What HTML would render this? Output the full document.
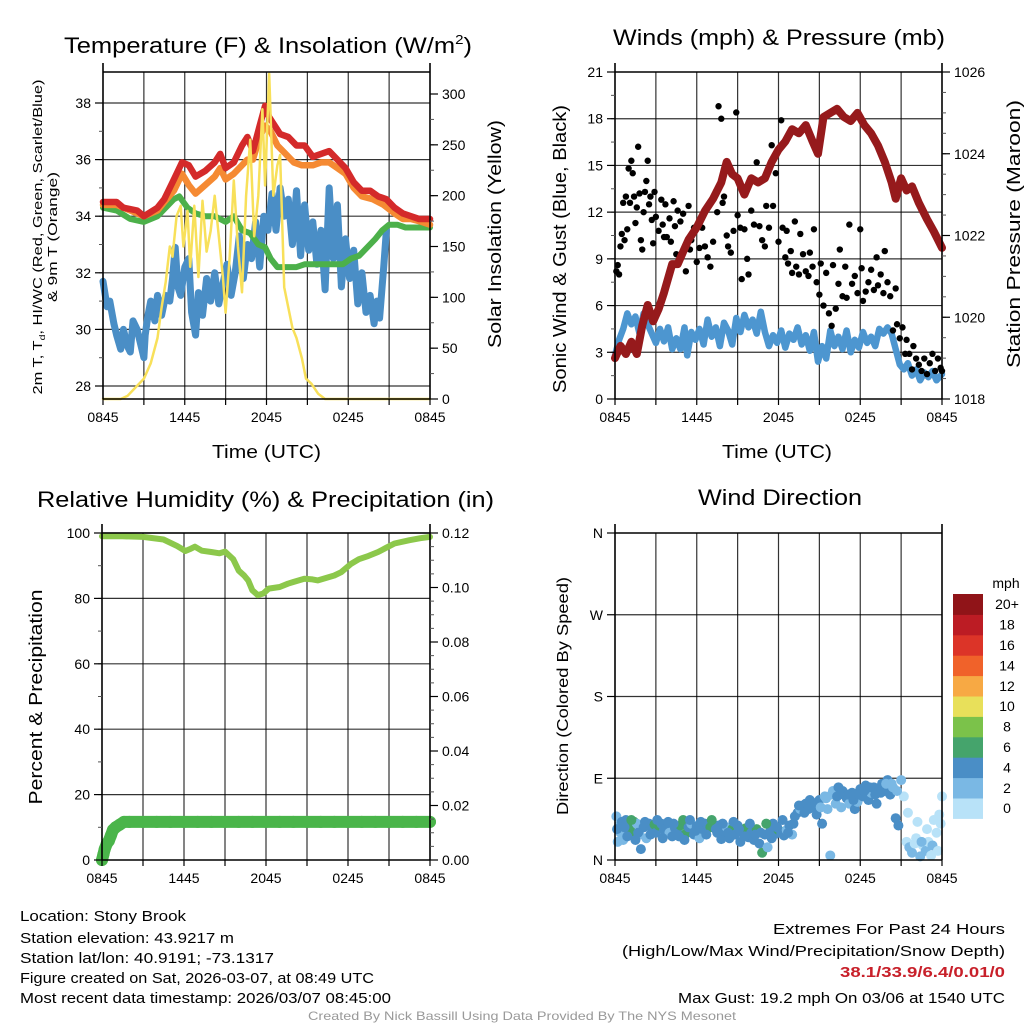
<!DOCTYPE html>
<html><head><meta charset="utf-8"><style>
html,body{margin:0;padding:0;background:#fff;}
svg{display:block;font-family:"Liberation Sans",Arial,sans-serif;}
</style></head><body>
<svg id="fig" width="1024" height="1024" viewBox="0 0 1024 1024" xmlns="http://www.w3.org/2000/svg">
<rect width="1024" height="1024" fill="#fff"/>
<g id="layer"></g>
<!-- titles -->
<text x="64" y="53" font-size="22" textLength="408" lengthAdjust="spacingAndGlyphs">Temperature (F) &amp; Insolation (W/m<tspan font-size="13" dy="-9">2</tspan><tspan dy="9">)</tspan></text>
<text x="613" y="45" font-size="22" textLength="332" lengthAdjust="spacingAndGlyphs">Winds (mph) &amp; Pressure (mb)</text>
<text x="37" y="507" font-size="22" textLength="457" lengthAdjust="spacingAndGlyphs">Relative Humidity (%) &amp; Precipitation (in)</text>
<text x="698" y="505" font-size="22" textLength="164" lengthAdjust="spacingAndGlyphs">Wind Direction</text>
<!-- axis titles -->
<text x="212" y="458" font-size="18" textLength="109" lengthAdjust="spacingAndGlyphs">Time (UTC)</text>
<text x="722" y="458" font-size="18" textLength="110" lengthAdjust="spacingAndGlyphs">Time (UTC)</text>
<text transform="translate(42,237) rotate(-90)" text-anchor="middle" font-size="12.5" textLength="315" lengthAdjust="spacingAndGlyphs">2m T, T<tspan font-size="8" dy="3">d</tspan><tspan dy="-3">, HI/WC (Red, Green, Scarlet/Blue)</tspan></text>
<text transform="translate(57,237) rotate(-90)" text-anchor="middle" font-size="12.5" textLength="130" lengthAdjust="spacingAndGlyphs">&amp; 9m T (Orange)</text>
<text transform="translate(501,234) rotate(-90)" text-anchor="middle" font-size="18" textLength="228" lengthAdjust="spacingAndGlyphs">Solar Insolation (Yellow)</text>
<text transform="translate(566,249) rotate(-90)" text-anchor="middle" font-size="18" textLength="288" lengthAdjust="spacingAndGlyphs">Sonic Wind &amp; Gust (Blue, Black)</text>
<text transform="translate(1020,234) rotate(-90)" text-anchor="middle" font-size="18" textLength="268" lengthAdjust="spacingAndGlyphs">Station Pressure (Maroon)</text>
<text transform="translate(42,697) rotate(-90)" text-anchor="middle" font-size="18" textLength="215" lengthAdjust="spacingAndGlyphs">Percent &amp; Precipitation</text>
<text transform="translate(568,696) rotate(-90)" text-anchor="middle" font-size="16" textLength="238" lengthAdjust="spacingAndGlyphs">Direction (Colored By Speed)</text>
<!-- footer -->
<g font-size="15">
<text x="20" y="921" textLength="166" lengthAdjust="spacingAndGlyphs">Location: Stony Brook</text>
<text x="20" y="943" textLength="214" lengthAdjust="spacingAndGlyphs">Station elevation: 43.9217 m</text>
<text x="20" y="963" textLength="254" lengthAdjust="spacingAndGlyphs">Station lat/lon: 40.9191; -73.1317</text>
<text x="20" y="983" textLength="354" lengthAdjust="spacingAndGlyphs">Figure created on Sat, 2026-03-07, at 08:49 UTC</text>
<text x="20" y="1003" textLength="371" lengthAdjust="spacingAndGlyphs">Most recent data timestamp: 2026/03/07 08:45:00</text>
</g>
<g font-size="15" text-anchor="end">
<text x="1005" y="934" textLength="232" lengthAdjust="spacingAndGlyphs">Extremes For Past 24 Hours</text>
<text x="1005" y="956" textLength="383" lengthAdjust="spacingAndGlyphs">(High/Low/Max Wind/Precipitation/Snow Depth)</text>
<text x="1005" y="977" fill="#c8202a" font-weight="bold" textLength="165" lengthAdjust="spacingAndGlyphs">38.1/33.9/6.4/0.01/0</text>
<text x="1005" y="1003" textLength="327" lengthAdjust="spacingAndGlyphs">Max Gust: 19.2 mph On 03/06 at 1540 UTC</text>
</g>
<text x="308" y="1020" font-size="12" fill="#999" textLength="428" lengthAdjust="spacingAndGlyphs">Created By Nick Bassill Using Data Provided By The NYS Mesonet</text>
</svg>
<script>
// ---------- data (time in hours after 0845 UTC) ----------
var xTickLabels = ["0845","1445","2045","0245","0845"];
var tempTicks = [28,30,32,34,36,38];
var solarTicks = [0,50,100,150,200,250,300];
var windTicks = [0,3,6,9,12,15,18,21];
var pressTicks = [1018,1020,1022,1024,1026];
var rhTicks = [0,20,40,60,80,100];
var precipTicks = ["0.00","0.02","0.04","0.06","0.08","0.10","0.12"];
var dirTicks = ["N","E","S","W","N"];
var speedBins = ["0","2","4","6","8","10","12","14","16","18","20+"];
var speedColors = ["#b8e2f8","#7ab8e4","#4a8ec6","#45a46c","#7bc24a","#e8e05a","#f7a944","#f0622a","#dc3428","#bc1c24","#901418"];

var tempRed = [[0,34.5],[1,34.5],[1.5,34.3],[2.5,34.2],[3,34.0],[4,34.3],[4.5,34.6],[5.2,35.3],[5.8,35.9],[6.3,35.8],[6.8,35.4],[7.5,35.6],[8.2,35.9],[8.6,36.2],[9.0,35.7],[9.6,35.9],[10.2,36.5],[10.6,36.8],[11.0,36.3],[11.5,37.2],[11.9,37.9],[12.2,37.5],[12.6,37.2],[13.0,36.9],[13.6,36.8],[14.2,36.5],[14.8,36.5],[15.4,36.1],[16.0,36.2],[16.6,36.3],[17.2,36.0],[17.8,35.7],[18.4,35.2],[19.0,34.9],[19.6,34.9],[20.2,34.7],[20.8,34.6],[21.4,34.3],[22.0,34.1],[22.6,34.0],[23.2,33.9],[24,33.9]];
var tempOrange = [[0,34.4],[1,34.4],[2,34.2],[3,34.0],[4,34.2],[4.5,34.5],[5.2,34.9],[5.8,35.5],[6.3,35.1],[6.8,34.8],[7.5,35.1],[8.2,35.4],[8.6,35.7],[9.0,35.3],[9.6,35.5],[10.2,35.8],[10.6,36.0],[11.0,36.0],[11.5,36.8],[11.9,37.2],[12.3,37.0],[12.8,36.5],[13.4,36.2],[14.0,35.9],[14.6,35.8],[15.4,35.8],[16.0,35.9],[16.6,35.9],[17.2,35.7],[17.8,35.5],[18.4,35.0],[19.0,34.7],[19.8,34.6],[20.6,34.4],[21.4,34.1],[22.0,33.9],[22.6,33.9],[23.4,33.8],[24,33.7]];
var tempGreen = [[0,34.3],[1,34.2],[2,33.9],[3,33.8],[4,34.0],[4.6,34.3],[5.2,34.6],[5.6,34.7],[6.2,34.3],[6.8,34.1],[7.5,34.0],[8.2,34.0],[9.0,33.8],[9.6,34.0],[10.2,33.5],[10.8,33.4],[11.4,33.0],[11.9,32.9],[12.3,32.5],[12.8,32.2],[13.5,32.2],[14.2,32.2],[14.8,32.3],[15.5,32.3],[16.2,32.3],[17.0,32.3],[17.6,32.3],[18.2,32.5],[18.8,32.6],[19.4,32.9],[20.0,33.2],[20.5,33.5],[21.0,33.7],[21.6,33.7],[22.2,33.6],[23.0,33.6],[24,33.6]];
var dewBlue = [[0,31.7],[0.3,30.8],[0.5,31.0],[0.8,30.2],[1.0,29.8],[1.3,29.3],[1.5,30.0],[1.8,29.4],[2.0,29.2],[2.2,30.3],[2.5,30.0],[2.8,29.4],[3.0,29.0],[3.1,29.8],[3.3,30.5],[3.5,31.0],[3.8,30.3],[4.0,31.2],[4.3,30.5],[4.6,31.2],[4.9,31.0],[5.1,31.8],[5.3,32.9],[5.5,31.5],[5.7,31.2],[6.0,32.2],[6.3,32.5],[6.5,30.6],[6.8,29.8],[7.0,31.3],[7.3,30.5],[7.6,31.8],[7.9,31.0],[8.2,32.0],[8.5,30.9],[8.8,31.6],[9.1,32.3],[9.4,31.2],[9.7,32.0],[10.0,33.3],[10.3,31.8],[10.6,33.0],[10.9,32.5],[11.2,33.8],[11.5,32.2],[11.8,34.0],[12.1,33.5],[12.4,34.8],[12.7,33.5],[13.0,35.0],[13.3,34.0],[13.6,34.6],[13.9,33.0],[14.2,34.9],[14.5,32.6],[14.8,34.4],[15.1,32.8],[15.4,33.8],[15.7,32.3],[16.0,33.5],[16.3,31.4],[16.6,35.0],[16.9,32.5],[17.2,34.4],[17.5,31.5],[17.8,33.2],[18.1,31.8],[18.4,32.8],[18.7,30.9],[19.0,32.0],[19.3,30.6],[19.6,31.2],[19.9,30.2],[20.1,31.0],[20.3,30.4],[20.6,32.2],[20.8,33.5]];
var solar = [[0,0],[1.3,0],[1.8,3],[2.3,10],[3,20],[3.5,35],[4.0,60],[4.3,90],[4.6,115],[4.9,150],[5.1,140],[5.4,180],[5.7,190],[5.9,150],[6.2,185],[6.4,130],[6.7,190],[7.0,120],[7.3,195],[7.6,145],[7.9,165],[8.2,200],[8.5,160],[8.8,120],[9.0,85],[9.3,140],[9.6,215],[9.9,150],[10.2,105],[10.5,200],[10.8,255],[11.1,160],[11.4,200],[11.7,285],[11.9,210],[12.2,320],[12.5,200],[12.8,230],[13.0,240],[13.3,110],[13.6,90],[13.9,70],[14.2,60],[14.6,40],[14.9,20],[15.3,15],[15.8,5],[16.3,0],[24,0]];
var pressure = [[0,1019.0],[0.4,1019.3],[0.8,1019.1],[1.2,1019.4],[1.6,1019.1],[2.0,1019.8],[2.4,1020.3],[2.8,1019.9],[3.2,1020.2],[3.6,1020.6],[4.2,1021.3],[4.6,1021.3],[5.0,1021.6],[5.4,1021.9],[6.0,1022.2],[6.6,1022.6],[7.2,1022.9],[7.8,1023.3],[8.2,1023.8],[8.6,1023.5],[9.0,1023.4],[9.5,1023.0],[10.0,1023.4],[10.5,1023.3],[11.0,1023.4],[11.5,1023.8],[12.0,1024.1],[12.5,1024.3],[13.0,1024.6],[13.5,1024.5],[14.0,1024.7],[14.5,1024.3],[14.9,1024.0],[15.3,1024.9],[15.8,1025.0],[16.3,1025.1],[16.8,1024.9],[17.3,1024.8],[17.8,1025.0],[18.3,1024.7],[18.8,1024.5],[19.3,1024.2],[19.8,1023.8],[20.3,1023.3],[20.6,1022.9],[21.0,1023.4],[21.4,1023.1],[21.8,1023.2],[22.3,1022.8],[22.9,1022.4],[23.4,1022.1],[24,1021.7]];
var windBlue = [[0,2.8],[0.3,3.8],[0.6,4.5],[0.9,5.5],[1.2,4.8],[1.5,5.3],[1.8,4.2],[2.1,5.5],[2.4,4.8],[2.7,4.2],[3.0,3.6],[3.3,4.5],[3.6,3.7],[3.9,4.6],[4.2,3.2],[4.5,3.9],[4.8,3.2],[5.1,4.6],[5.3,2.8],[5.6,4.3],[5.9,3.8],[6.2,4.5],[6.5,3.5],[6.8,5.1],[7.1,4.0],[7.4,4.6],[7.7,3.4],[8.0,4.9],[8.3,4.4],[8.6,3.5],[8.9,5.2],[9.2,4.3],[9.5,5.4],[9.8,4.6],[10.1,5.1],[10.4,4.2],[10.7,5.6],[11.0,4.3],[11.3,3.4],[11.6,4.1],[11.9,3.6],[12.2,4.4],[12.5,3.3],[12.8,4.2],[13.1,3.8],[13.4,4.6],[13.7,3.5],[14.0,4.1],[14.3,3.1],[14.6,4.3],[14.9,2.4],[15.2,3.4],[15.5,2.6],[15.8,4.4],[16.1,3.4],[16.4,4.0],[16.7,3.2],[17.0,4.4],[17.3,3.0],[17.6,3.8],[17.9,3.3],[18.2,4.3],[18.5,3.6],[18.8,4.0],[19.1,3.4],[19.4,4.5],[19.7,4.2],[20.0,4.6],[20.3,4.2],[20.6,3.2],[20.9,2.2],[21.2,1.9],[21.5,2.3],[21.8,1.5],[22.1,1.9],[22.4,1.2],[22.7,1.7],[23.0,1.4],[23.3,1.8],[23.6,1.2],[24,1.6]];
var gusts = [[0.1,8.2],[0.2,8.6],[0.3,8.0],[0.4,9.8],[0.5,10.6],[0.6,12.6],[0.7,10.2],[0.8,13.0],[0.9,10.9],[1.0,14.8],[1.1,12.6],[1.2,15.3],[1.3,14.5],[1.4,13.0],[1.5,11.3],[1.6,12.3],[1.7,16.2],[1.8,13.2],[1.9,10.2],[2.0,9.6],[2.1,12.0],[2.2,13.3],[2.3,14.0],[2.4,15.3],[2.5,12.5],[2.6,13.0],[2.7,11.5],[2.8,10.0],[2.9,13.3],[3.0,11.7],[3.2,10.8],[3.4,12.8],[3.5,11.2],[3.6,10.4],[3.7,12.5],[3.8,10.4],[4.0,11.6],[4.1,10.1],[4.3,12.7],[4.4,11.1],[4.5,9.3],[4.6,12.1],[4.8,11.4],[5.0,11.9],[5.2,8.2],[5.4,12.4],[5.5,9.6],[5.6,10.2],[5.8,11.0],[6.0,8.8],[6.2,9.7],[6.4,11.0],[6.6,9.8],[6.8,9.1],[7.0,8.5],[7.2,10.1],[7.4,13.3],[7.5,12.0],[7.6,18.8],[7.8,18.0],[7.9,12.6],[8.0,13.0],[8.2,10.5],[8.3,9.8],[8.5,9.4],[8.7,10.8],[8.9,18.4],[9.0,11.8],[9.2,11.0],[9.3,7.7],[9.5,10.9],[9.7,9.0],[9.8,8.0],[10.0,12.1],[10.2,11.2],[10.4,15.2],[10.6,11.1],[10.8,10.2],[11.0,9.8],[11.1,12.4],[11.3,11.0],[11.5,16.3],[11.6,12.4],[11.8,14.5],[12.0,10.1],[12.2,17.9],[12.3,11.0],[12.5,9.1],[12.6,10.8],[12.7,8.7],[12.9,9.5],[13.0,8.1],[13.2,11.4],[13.3,8.5],[13.5,8.0],[13.6,10.6],[13.8,9.3],[14.0,8.2],[14.2,7.9],[14.3,9.4],[14.5,8.5],[14.6,10.9],[14.8,7.5],[15.0,6.7],[15.1,8.7],[15.3,6.0],[15.5,8.1],[15.7,5.5],[15.9,4.7],[16.0,8.6],[16.2,5.8],[16.4,7.4],[16.5,9.6],[16.7,6.6],[16.9,8.5],[17.0,6.5],[17.2,11.2],[17.4,7.4],[17.6,7.9],[17.8,6.8],[18.0,10.9],[18.1,8.4],[18.2,6.3],[18.4,6.9],[18.6,7.5],[18.8,8.3],[19.0,7.0],[19.2,9.1],[19.3,7.3],[19.5,8.0],[19.7,6.8],[19.8,9.5],[20.0,7.5],[20.2,6.6],[20.4,4.4],[20.6,7.1],[20.7,4.8],[20.9,3.9],[21.1,4.6],[21.3,2.9],[21.4,3.8],[21.6,2.9],[21.8,1.9],[21.9,3.4],[22.1,2.6],[22.3,2.2],[22.5,1.8],[22.7,2.6],[22.9,1.6],[23.1,2.3],[23.3,2.9],[23.5,1.8],[23.7,2.6],[23.9,2.0],[24.0,1.8]];
var rh = [[0,99],[1.5,99],[3,98.8],[4.5,98],[5.5,96],[6.1,94.5],[6.5,95.2],[6.8,95.8],[7.3,94.6],[8.0,94.2],[8.6,93.8],[9.0,94.3],[9.6,92],[10.0,88.5],[10.4,87],[10.7,85.5],[11.0,82.5],[11.4,81],[11.8,81.5],[12.2,83],[13.0,83.5],[13.6,84.5],[14.0,85],[14.8,86],[15.4,85.8],[15.8,85.5],[16.2,86],[17.0,87],[17.5,88],[18.2,90.5],[18.8,92],[19.5,93],[20.2,94.2],[20.8,95.5],[21.4,96.8],[22.5,97.8],[23.3,98.4],[24,98.8]];
var precipT = [0,0.1,0.2,0.35,0.5,0.65,0.8,1.0,1.3,1.6,2.0,3,4,5,6,7,8,9,10,11,12,13,14,15,16,17,18,19,20,21,22,23,24];
var precipV = [0,0.002,0.004,0.006,0.007,0.009,0.011,0.012,0.013,0.014,0.014,0.014,0.014,0.014,0.014,0.014,0.014,0.014,0.014,0.014,0.014,0.014,0.014,0.014,0.014,0.014,0.014,0.014,0.014,0.014,0.014,0.014,0.014];
var windDir = [[0.1,48,3],[0.2,20,3],[0.3,38,3.5],[0.4,30,3],[0.5,42,4],[0.6,22,3.2],[0.8,44,4],[1.0,31,3.5],[1.1,35,6.5],[1.3,27,6.5],[1.4,42,6.8],[1.6,40,3.5],[1.8,28,3.5],[1.9,12,4],[2.1,36,4],[2.3,24,3],[2.5,40,4],[2.7,35,4],[2.9,39,6.5],[3.0,30,4],[3.2,38,6.5],[3.4,40,4],[3.6,33,4],[3.8,36,4],[4.0,30,3.5],[4.2,26,4],[4.4,35,4],[4.6,30,4],[4.8,38,6.5],[5.0,44,6.5],[5.2,29,7],[5.4,36,4],[5.6,40,3.5],[5.8,28,4],[6.0,37,4],[6.2,24,3],[6.4,34,4],[6.6,40,4],[6.8,38,4],[7.0,36,7],[7.2,38,6.5],[7.4,34,4],[7.6,38,4],[7.8,23,4],[8.0,32,4],[8.2,36,3.5],[8.4,24,4],[8.6,34,6.5],[8.8,28,4],[9.0,38,4],[9.2,20,4],[9.4,30,4],[9.6,35,6.5],[9.8,25,4],[10.0,30,4],[10.2,22,4],[10.4,34,7],[10.6,18,4],[10.8,8,6.5],[11.0,28,4],[11.2,14,3],[11.4,32,4],[11.6,40,4],[11.8,29,4],[12.0,33,6.5],[12.2,30,4],[12.4,27,4],[12.6,33,3],[12.8,38,4],[13.0,28,3],[13.2,48,4],[13.4,52,4],[13.6,56,3],[13.8,60,4],[14.0,62,4],[14.2,56,4],[14.4,64,4],[14.6,58,4],[14.8,50,4],[15.0,66,4],[15.2,40,4],[15.4,70,3],[15.6,56,3],[15.8,5,3],[16.0,76,3],[16.2,62,3],[16.4,80,4],[16.6,58,3],[16.8,72,4],[17.0,68,4],[17.2,62,3],[17.4,74,4],[17.6,56,4],[17.8,64,3],[18.0,78,4],[18.2,70,4],[18.4,82,4],[18.6,66,4],[18.8,74,3],[19.0,80,4],[19.2,62,4],[19.4,78,4],[19.6,84,4],[19.8,76,4],[20.0,88,4],[20.2,72,4],[20.4,80,2],[20.6,46,4],[20.8,38,4],[21.0,88,2],[21.2,70,1],[21.4,20,1],[21.6,14,2],[21.8,8,2],[22.0,18,1],[22.2,42,1],[22.4,4,2],[22.6,16,1],[22.8,10,2],[23.0,20,1],[23.2,5,1],[23.4,44,1],[23.6,30,1],[23.8,50,1],[24.0,70,1],
[0.15,34,4],[0.7,36,4],[0.9,26,4],[1.2,44,6.5],[1.5,22,4],[1.7,30,4],[2.2,42,4],[2.6,28,4],[3.1,44,4],[3.5,24,4],[3.9,42,4],[4.3,40,4],[4.7,26,4],[5.1,22,4],[5.5,44,4],[5.9,32,4],[6.3,42,4],[6.7,28,4],[7.1,44,6.5],[7.5,30,4],[7.9,40,4],[8.3,30,4],[8.7,42,4],[9.1,34,4],[9.5,26,4],[9.9,40,4],[10.3,28,4],[10.7,30,4],[11.1,40,6.5],[11.5,24,4],[11.9,36,4],[12.3,44,4],[12.7,30,4],[13.1,40,4],[13.5,60,4],[13.9,52,4],[14.3,66,4],[14.7,62,4],[15.1,58,2],[15.5,68,2],[15.9,72,2],[16.3,70,4],[16.7,76,4],[17.1,72,4],[17.5,66,4],[17.9,72,4],[18.3,76,4],[18.7,80,4],[19.1,72,4],[19.5,74,4],[19.9,84,2],[20.3,84,2],[20.7,76,2],[21.5,52,1],[22.1,24,1],[22.5,20,2],[22.9,34,1],[23.3,16,2],[23.7,10,1],[23.9,40,1]];

// ---------- drawing ----------
var NS = "http://www.w3.org/2000/svg";
var layer = document.getElementById("layer");
function mk(tag, attrs, parent) {
  var e = document.createElementNS(NS, tag);
  for (var k in attrs) e.setAttribute(k, attrs[k]);
  (parent || layer).appendChild(e);
  return e;
}
function lin(d0, d1, r0, r1) { return function (v) { return r0 + (v - d0) / (d1 - d0) * (r1 - r0); }; }

var P1 = {x0:103, x1:430, y0:72, y1:399};
var P2 = {x0:615, x1:942, y0:72, y1:399};
var P3 = {x0:102, x1:430, y0:533, y1:860};
var P4 = {x0:615, x1:942, y0:533, y1:860};

function frame(P, name, hGridVals, ys) {
  var g = mk("g", {});
  
  
  var xs = lin(0, 24, P.x0, P.x1);
  for (var h = 3; h < 24; h += 3) {
    var gl = mk("line", {x1:xs(h), x2:xs(h), y1:P.y0, y2:P.y1, stroke:"#000", "stroke-width":1.2, "stroke-opacity":0.8}, g);
    
    
  }
  hGridVals.forEach(function (v) {
    var hl = mk("line", {x1:P.x0, x2:P.x1, y1:ys(v), y2:ys(v), stroke:"#000", "stroke-width":1.2, "stroke-opacity":0.8}, g);
    
    
  });
  return {g:g, xs:xs};
}
function border(P, name) {
  var b = mk("g", {stroke:"#000", "stroke-width":1.6, fill:"none"});
  
  
  mk("line", {x1:P.x0, x2:P.x0, y1:P.y0-9, y2:P.y1}, b);
  mk("line", {x1:P.x1, x2:P.x1, y1:P.y0-9, y2:P.y1}, b);
  mk("line", {x1:P.x0, x2:P.x1, y1:P.y0, y2:P.y0}, b);
  mk("line", {x1:P.x0, x2:P.x1, y1:P.y1, y2:P.y1}, b);
  var xs = lin(0, 24, P.x0, P.x1);
  for (var h = 0; h <= 24; h += 3) {
    mk("line", {x1:xs(h), x2:xs(h), y1:P.y1, y2:P.y1+6, "stroke-width":1.2}, b);
  }
  xTickLabels.forEach(function (lab, i) {
    var t = mk("text", {x:xs(i*6), y:P.y1+23, "font-size":14, "text-anchor":"middle", stroke:"none", fill:"#000"});
    t.textContent = lab;
    
    
  });
}
function yTicks(P, name, vals, labels, ys, side, minorStep, minorFrom, minorTo) {
  var x = side === "left" ? P.x0 : P.x1;
  var dir = side === "left" ? -1 : 1;
  if (minorStep) {
    for (var m = minorFrom; m <= minorTo + 1e-9; m += minorStep) {
      mk("line", {x1:x, x2:x+dir*4, y1:ys(m), y2:ys(m), stroke:"#555", "stroke-width":1});
    }
  }
  vals.forEach(function (v, i) {
    mk("line", {x1:x, x2:x+dir*8, y1:ys(v), y2:ys(v), stroke:"#000", "stroke-width":1.2});
    var t = mk("text", {x:x+dir*12, y:ys(v)+5, "font-size":14, "text-anchor":side === "left" ? "end" : "start"});
    t.textContent = labels[i];
    
    
  });
}
function path(pts, xs, ys, color, w, name) {
  var d = pts.map(function (p, i) { return (i ? "L" : "M") + xs(p[0]).toFixed(1) + " " + ys(p[1]).toFixed(1); }).join("");
  var e = mk("path", {d:d, fill:"none", stroke:color, "stroke-width":w, "stroke-linejoin":"round", "stroke-linecap":"round"});
  
  
  return e;
}

// Panel 1: temperature
(function () {
  var yT = lin(28, 38, 386, 103);
  var yS = lin(0, 300, 399, 94);
  var f = frame(P1, "temperature", tempTicks, yT);
  var xs = f.xs;
  path(dewBlue, xs, yT, "#4a8ec6", 7, "dewpoint-line");
  path(tempGreen, xs, yT, "#4cb04a", 6, "heat-index-wind-chill-line");
  path(tempOrange, xs, yT, "#f58a33", 6.5, "temperature-9m-line");
  path(tempRed, xs, yT, "#d42a2a", 6.5, "temperature-2m-line");
  path(solar, xs, yS, "#f8e05a", 2.5, "solar-insolation-line");
  border(P1, "temperature");
  yTicks(P1, "temperature", tempTicks, tempTicks.map(String), yT, "left", 1, 28, 38);
  yTicks(P1, "solar", solarTicks, solarTicks.map(String), yS, "right", 25, 0, 300);
})();

// Panel 2: winds & pressure
(function () {
  var yW = lin(0, 21, 399, 72);
  var yP = lin(1018, 1026, 399, 72);
  var f = frame(P2, "winds", [3,6,9,12,15,18], yW);
  var xs = f.xs;
  path(windBlue, xs, yW, "#4d96d0", 6.5, "sonic-wind-line");
  gusts.forEach(function (g) {
    var c = mk("circle", {cx:xs(g[0]), cy:yW(g[1]), r:3.2, fill:"#000"});
    
    
  });
  path(pressure, xs, yP, "#961a1c", 8, "pressure-line");
  border(P2, "winds");
  yTicks(P2, "wind", windTicks, windTicks.map(String), yW, "left", 1.5, 0, 21);
  yTicks(P2, "pressure", pressTicks, pressTicks.map(String), yP, "right", 0.5, 1018, 1026);
})();

// Panel 3: RH & precip
(function () {
  var yR = lin(0, 100, 860, 533);
  var yQ = lin(0, 0.12, 860, 533);
  var f = frame(P3, "humidity", [20,40,60,80,100], yR);
  var xs = f.xs;
  path(rh, xs, yR, "#8cc84b", 6, "relative-humidity-line");
  var pp = precipT.map(function (t, i) { return [t, precipV[i]]; });
  path(pp, xs, yQ, "#4ab54a", 12, "precipitation-line");
  precipT.forEach(function (t, i) {
    var c = mk("circle", {cx:xs(t), cy:yQ(precipV[i]), r:6, fill:"#4ab54a"});
    
    
  });
  border(P3, "humidity");
  yTicks(P3, "humidity", rhTicks, rhTicks.map(String), yR, "left", 10, 0, 100);
  yTicks(P3, "precipitation", [0,0.02,0.04,0.06,0.08,0.10,0.12], precipTicks, yQ, "right", 0.005, 0, 0.12);
})();

// Panel 4: wind direction
(function () {
  var yD = lin(0, 360, 860, 533);
  var f = frame(P4, "wind-direction", [90,180,270], yD);
  var xs = f.xs;
  windDir.forEach(function (d) {
    var bin = Math.min(10, Math.max(0, Math.floor(d[2] / 2)));
    var c = mk("circle", {cx:xs(d[0]), cy:yD(d[1]), r:5, fill:speedColors[bin]});
    
    
  });
  border(P4, "wind-direction");
  yTicks(P4, "direction", [0,90,180,270,360], dirTicks, yD, "left", 0, 0, 0);
  // colorbar
  var cb = mk("g", {});
  
  
  var top = 594, h = 20.4;
  var ttl = mk("text", {x:1006, y:588, "font-size":14, "text-anchor":"middle"}, cb);
  ttl.textContent = "mph";
  speedBins.forEach(function (lab, i) {
    var k = speedBins.length - 1 - i;
    var y = top + k * h;
    var r = mk("rect", {x:953, y:y, width:30, height:h+0.5, fill:speedColors[i]}, cb);
    
    
    var t = mk("text", {x:1007, y:y+h/2+5, "font-size":14, "text-anchor":"middle"}, cb);
    t.textContent = lab;
    
    
  });
})();
</script>
</body></html>
